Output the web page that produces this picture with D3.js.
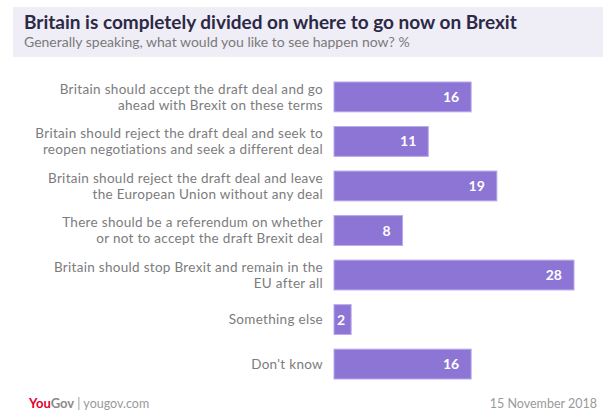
<!DOCTYPE html>
<html>
<head>
<meta charset="utf-8">
<script src="https://cdn.jsdelivr.net/npm/d3@7"></script>
<style>
  body { margin: 0; background: #fff; }
  svg { display: block; font-family: Lato, "Open Sans", sans-serif; }
</style>
</head>
<body>
<script>
// data
var categories = [
  ["Britain should accept the draft deal and go", "ahead with Brexit on these terms"],
  ["Britain should reject the draft deal and seek to", "reopen negotiations and seek a different deal"],
  ["Britain should reject the draft deal and leave", "the European Union without any deal"],
  ["There should be a referendum on whether", "or not to accept the draft Brexit deal"],
  ["Britain should stop Brexit and remain in the", "EU after all"],
  ["Something else"],
  ["Don't know"]
];
var values = [16, 11, 19, 8, 28, 2, 16];

var title = "Britain is completely divided on where to go now on Brexit";
var subtitle = "Generally speaking, what would you like to see happen now? %";
var dateText = "15 November 2018";

var W = 603, H = 412;

var svg = d3.select("body").append("svg")
  .attr("width", W)
  .attr("height", H);

// header band
svg.append("rect")
  .attr("x", 13).attr("y", 7)
  .attr("width", W - 13).attr("height", 50)
  .attr("fill", "#efedf6");

svg.append("text")
  .attr("x", 24).attr("y", 29)
  .attr("font-size", 19)
  .attr("font-weight", 700)
  .attr("fill", "#2b2946")
  .text(title);

svg.append("text")
  .attr("x", 24).attr("y", 47)
  .attr("font-size", 14)
  .attr("fill", "#7a7a7a")
  .text(subtitle);

// scales
var x = d3.scaleLinear()
  .domain([0, 28])
  .range([334, 574]);

var y = d3.scaleBand()
  .domain(d3.range(values.length))
  .range([82, 379])
  .paddingInner(0.33)
  .paddingOuter(0);

var rows = svg.selectAll(".row")
  .data(values)
  .enter().append("g")
  .attr("class", "row");

rows.append("rect")
  .attr("x", x(0))
  .attr("y", function (d, i) { return y(i); })
  .attr("width", function (d) { return x(d) - x(0); })
  .attr("height", y.bandwidth())
  .attr("fill", "#8c75d4")
  .attr("stroke", "#b9aae9")
  .attr("stroke-width", 1);

rows.append("text")
  .attr("x", function (d) { return x(d) - (d < 5 ? 6 : 12); })
  .attr("y", function (d, i) { return y(i) + y.bandwidth() / 2; })
  .attr("dy", "0.36em")
  .attr("text-anchor", "end")
  .attr("font-size", 14)
  .attr("font-weight", 700)
  .attr("fill", "#fff")
  .text(function (d) { return d; });

// category labels
var labels = svg.selectAll(".label")
  .data(categories)
  .enter().append("text")
  .attr("class", "label")
  .attr("text-anchor", "end")
  .attr("font-size", 13.5)
  .attr("letter-spacing", 0.3)
  .attr("fill", "#7c7c7c");

labels.each(function (lines, i) {
  var cy = y(i) + y.bandwidth() / 2;
  var start = cy - (lines.length - 1) * 8;
  d3.select(this).selectAll("tspan")
    .data(lines)
    .enter().append("tspan")
    .attr("x", 323)
    .attr("y", function (l, j) { return start + j * 16; })
    .attr("dy", "0.35em")
    .text(function (l) { return l; });
});

// footer
var logo = svg.append("text")
  .attr("x", 29).attr("y", 408)
  .attr("font-size", 13);
logo.append("tspan").attr("fill", "#e4002b").attr("font-weight", 700).text("You");
logo.append("tspan").attr("fill", "#8a8a8a").attr("font-weight", 700).text("Gov");
logo.append("tspan").attr("fill", "#9a9a9a").attr("font-size", 12.5).text("  |  yougov.com");

svg.append("text")
  .attr("x", 597).attr("y", 408)
  .attr("text-anchor", "end")
  .attr("font-size", 12.5)
  .attr("fill", "#9a9a9a")
  .text(dateText);
</script>
</body>
</html>
